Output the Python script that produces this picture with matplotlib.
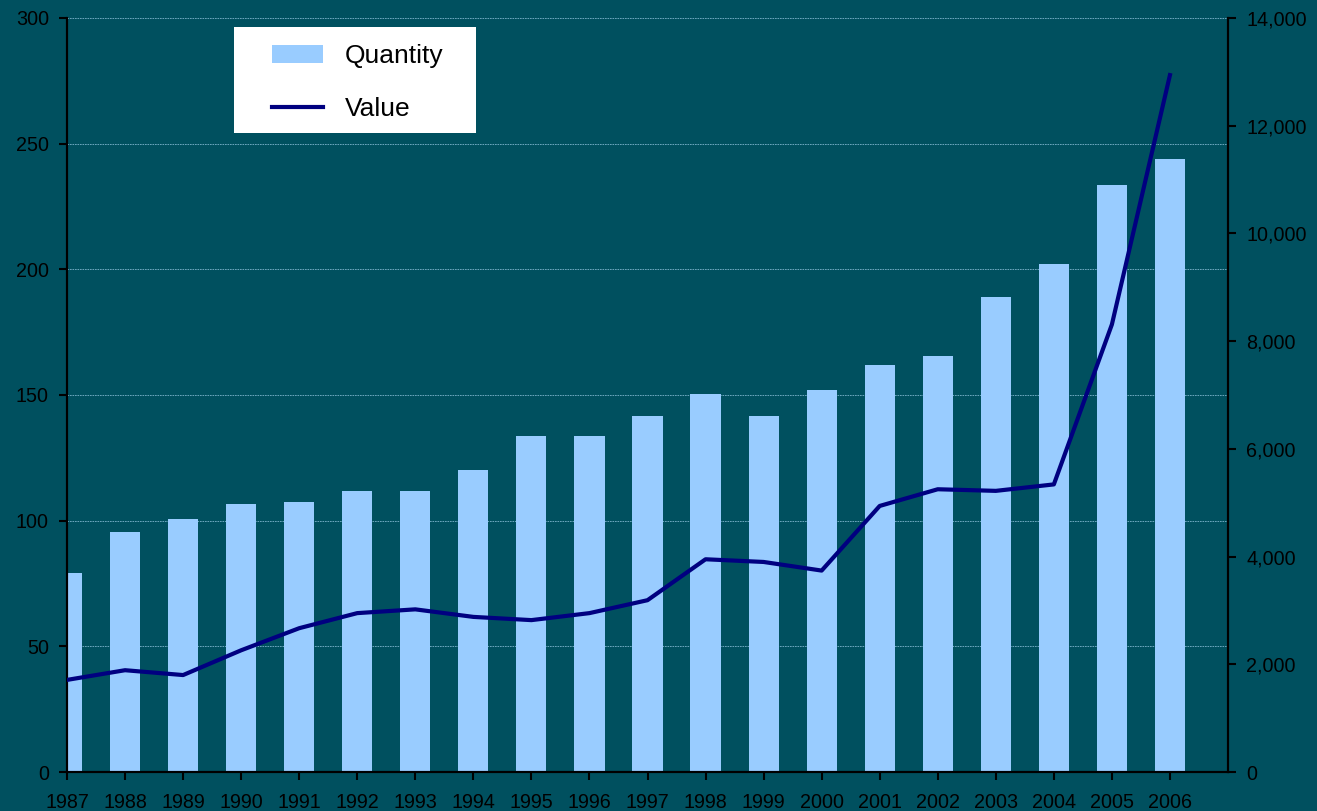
import numpy as np
import matplotlib.pyplot as plt
from matplotlib.patches import Patch, Rectangle
from matplotlib.lines import Line2D

plt.rcParams['font.family'] = ['Liberation Sans', 'DejaVu Sans']

# data
years = [1987, 1988, 1989, 1990, 1991, 1992, 1993, 1994, 1995, 1996,
         1997, 1998, 1999, 2000, 2001, 2002, 2003, 2004, 2005, 2006]
quantity = [79, 95.5, 100.5, 106.5, 107.5, 112, 112, 120, 133.5, 133.5,
            141.5, 150.5, 141.5, 152, 162, 165.5, 189, 202, 233.5, 244]
value = [1710, 1890, 1800, 2260, 2670, 2950, 3020, 2880, 2820, 2950,
         3190, 3950, 3900, 3740, 4940, 5250, 5220, 5340, 8310, 12940]

bg = "#00505F"
bar_col = "#99CCFF"
line_col = "#000080"

fig = plt.figure(figsize=(13.17, 8.11), dpi=100)
fig.patch.set_facecolor(bg)
ax1 = fig.add_axes([67 / 1317, 39 / 811, (1228 - 67) / 1317, (772 - 18) / 811])
ax1.set_facecolor(bg)

x = np.arange(len(years))
ax1.bar(x, quantity, width=0.52, color=bar_col, zorder=2)
ax1.set_xlim(0, 20)
ax1.set_ylim(0, 300)
ax1.set_yticks(range(0, 301, 50))
ax1.set_xticks(x)
ax1.set_xticklabels([str(y) for y in years])
ax1.grid(axis='y', color="#7DB4CC", lw=0.6, ls=(0, (2, 1)), zorder=0)
ax1.set_axisbelow(True)

ax2 = ax1.twinx()
ax2.plot(x, value, color=line_col, lw=3, zorder=3)
ax2.set_ylim(0, 14000)
ax2.set_yticks(range(0, 14001, 2000))
ax2.set_yticklabels([f"{v:,}" for v in range(0, 14001, 2000)])

for ax in (ax1, ax2):
    ax.spines['top'].set_visible(False)
    for s in ('left', 'right', 'bottom'):
        ax.spines[s].set_color('black')
        ax.spines[s].set_linewidth(1.5)
    ax.tick_params(colors='black', labelsize=14.2, length=6, width=1.5,
                   direction='out')
ax1.tick_params(axis='x', pad=9)
ax1.tick_params(axis='y', pad=7)
ax2.tick_params(axis='y', pad=7)

# white legend box
ax2.add_patch(Rectangle(((234 - 67) / 1161, (772 - 133) / 754),
                        242 / 1161, 106 / 754, transform=ax2.transAxes,
                        facecolor='white', edgecolor='none', zorder=5))

handles = [Patch(facecolor=bar_col, edgecolor='none'),
           Line2D([], [], color=line_col, lw=3)]
leg = ax2.legend(handles, ["Quantity", "Value"], loc='center left',
                 bbox_to_anchor=((272 - 67) / 1161, (772 - 82.5) / 754),
                 fontsize=19, frameon=False,
                 handlelength=1.93, handleheight=0.65, handletextpad=0.83,
                 labelspacing=1.08, borderpad=0, borderaxespad=0)
leg.set_zorder(6)

fig.savefig("out.png", dpi=100, facecolor=bg)
